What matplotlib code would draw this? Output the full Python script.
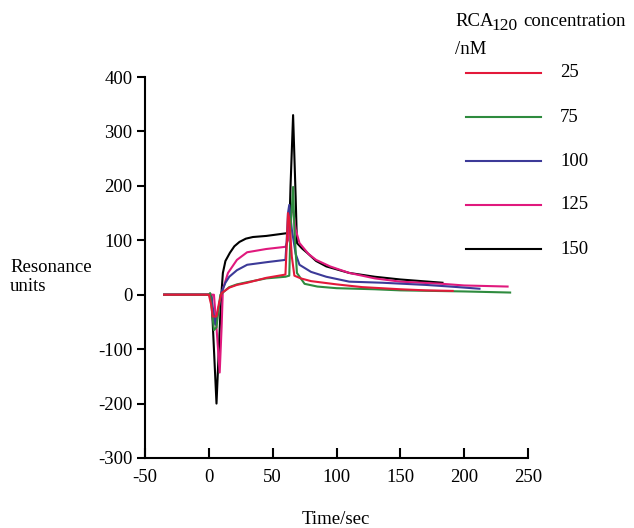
"""
plot.py
SPR sensorgram: RCA120 binding at several concentrations
"""

import matplotlib.pyplot as plt
from matplotlib.lines import Line2D

plt.rcParams["font.family"] = ["Liberation Serif", "DejaVu Serif"]
plt.rcParams["axes.unicode_minus"] = False

# ── data ────────────────────────────────────────────────────
labels = ["25", "75", "100", "125", "150"]
colors = ["#e3193a", "#2e8b3e", "#3c3a98", "#e0197d", "#000000"]

t_25 = [-35, 0, 2, 3, 6, 8, 10, 16, 22, 30, 45, 60, 61, 62, 63, 65, 67, 72, 80, 90, 100, 120, 150, 170, 191]
y_25 = [0, 0, -20, -40, -40, -15, 3, 13, 18, 22, 31, 37, 90, 150, 140, 70, 35, 30, 25, 22, 19, 14, 10, 8, 7]

t_75 = [-35, 0, 1, 2, 4, 6, 9, 16, 22, 30, 45, 60, 63, 64, 66, 67, 69, 75, 85, 100, 130, 150, 200, 236]
y_75 = [0, 0, 3, -20, -65, -60, 0, 14, 19, 23, 30, 33, 35, 120, 198, 120, 40, 20, 15, 12, 10, 8, 6, 4]

t_100 = [-35, 0, 2, 5, 8, 10, 13, 16, 22, 30, 46, 60, 61, 62, 63, 65, 68, 71, 80, 92, 110, 136, 170, 189, 212]
y_100 = [0, 0, -5, -55, -20, 5, 22, 33, 45, 55, 60, 64, 100, 150, 165, 120, 75, 55, 42, 33, 24, 22, 18, 15, 11]

t_125 = [-35, 0, 4, 6, 8.5, 10, 11, 15, 22, 30, 45, 60, 62, 64, 66, 68, 71, 78, 84, 95, 110, 130, 150, 183, 200, 234]
y_125 = [0, 0, 0, -60, -143, -60, 10, 40, 64, 78, 84, 88, 100, 150, 155, 120, 95, 75, 64, 52, 40, 30, 24, 20, 17, 15]

t_150 = [-35, 0, 2, 6, 9.5, 11, 13, 16.5, 20, 24, 29, 34.5, 45, 61, 63, 64, 66, 68, 69, 73, 77, 84, 92, 110, 130, 150, 183]
y_150 = [0, 0, 0, -200, -10, 40, 62, 77, 89, 97, 103, 106, 108, 113, 115, 200, 330, 180, 95, 85, 77, 62, 52, 40, 33, 28, 22]

times = [t_25, t_75, t_100, t_125, t_150]
values = [y_25, y_75, y_100, y_125, y_150]

FS = 13.5

# ── figure ──────────────────────────────────────────────────
fig = plt.figure(figsize=(6.34, 5.28), dpi=100)
ax = fig.add_axes([145 / 634, 1 - 458 / 528, 383 / 634, 381 / 528])

# black first so the low-concentration traces sit on top
for t, y, c in reversed(list(zip(times, values, colors))):
    ax.plot(t, y, color=c, linewidth=1.5)

ax.set_xlim(-50, 250)
ax.set_ylim(-300, 400)
ax.set_xticks(range(-50, 251, 50))
ax.set_yticks(range(-300, 401, 100))

for side in ["top", "right"]:
    ax.spines[side].set_visible(False)
for side in ["left", "bottom"]:
    ax.spines[side].set_linewidth(1.5)

ax.tick_params(axis="x", direction="in", length=7, width=1.5, labelsize=FS, pad=8)
ax.tick_params(axis="y", direction="out", length=6, width=1.5, labelsize=FS, pad=3)

fig.text(336 / 634, 1 - 519 / 528, "Time/sec", ha="center", va="center", fontsize=FS)
fig.text(10 / 634, 1 - 277 / 528, "Resonance\nunits", ha="left", va="center",
         fontsize=FS, linespacing=1.1)

# ── legend, drawn by hand to get the wide spacing ──────────
t1 = fig.text(455 / 634, 1 - 21 / 528, "RCA", ha="left", va="center", fontsize=FS)
t2 = ax.annotate("120", xy=(1, 0.5), xycoords=t1, xytext=(-2, -5), textcoords="offset pixels",
                 ha="left", va="center", fontsize=FS - 1, annotation_clip=False)
ax.annotate("concentration", xy=(1, 0.5), xycoords=t2, xytext=(6, 5), textcoords="offset pixels",
            ha="left", va="center", fontsize=FS, annotation_clip=False)
fig.text(455 / 634, 1 - 49 / 528, "/nM", ha="left", va="center", fontsize=FS)
for i, (lab, c) in enumerate(zip(labels, colors)):
    yy = 1 - (73 + 44 * i) / 528
    fig.add_artist(Line2D([466 / 634, 541 / 634], [yy, yy], color=c, linewidth=1.5,
                          transform=fig.transFigure))
    fig.text(560 / 634, yy, lab, ha="left", va="center", fontsize=FS)

plt.savefig("out.png", dpi=100)
plt.close()
